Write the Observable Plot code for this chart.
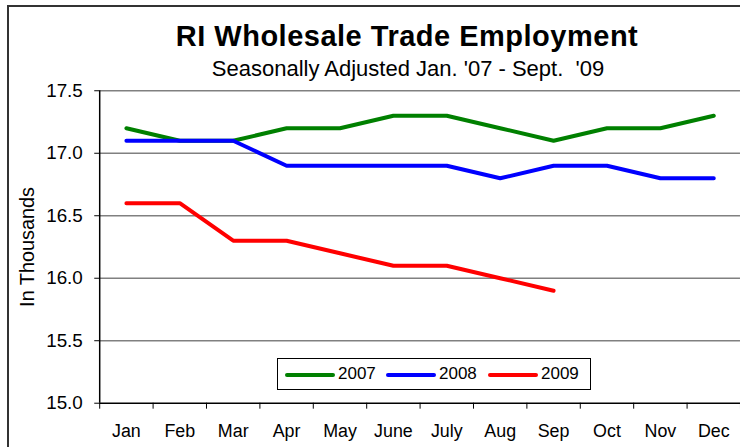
<!DOCTYPE html>
<html><head><meta charset="utf-8">
<script src="https://cdn.jsdelivr.net/npm/d3@7"></script>
<script src="https://cdn.jsdelivr.net/npm/@observablehq/plot@0.6"></script>
<style>
body{margin:0;overflow:hidden;background:#fff;font-family:"Liberation Sans",Arial,sans-serif;}
#wrap{position:relative;width:740px;height:447px;overflow:hidden;background:#fff;}
#frame{position:absolute;left:7px;top:5px;width:800px;height:500px;border:2px solid #333;box-sizing:border-box;}
#title{position:absolute;left:0;top:18px;width:814px;text-align:center;font-weight:bold;font-size:29px;letter-spacing:0.5px;line-height:36px;color:#000;}
#subtitle{position:absolute;left:0;top:57px;width:816px;text-align:center;font-size:22px;line-height:24px;color:#000;}
#chart{position:absolute;left:0;top:0;}
#legend{position:absolute;left:277px;top:358px;width:314px;height:32px;border:1px solid #000;box-sizing:border-box;background:#fff;font-size:17px;}
.sw{position:absolute;top:14px;width:50px;height:4px;border-radius:2px;}
.lt{position:absolute;top:5px;line-height:20px;}
</style></head>
<body>
<div id="wrap">
  <div id="chart"></div>
  <div id="frame"></div>
  <div id="title">RI Wholesale Trade Employment</div>
  <div id="subtitle">Seasonally Adjusted Jan. '07 - Sept.&nbsp; '09</div>
  <div id="legend"></div>
</div>
<script>
const months = ["Jan","Feb","Mar","Apr","May","June","July","Aug","Sep","Oct","Nov","Dec"];
const years = ["2007","2008","2009"];
const colors = ["#008000","#0000ff","#ff0000"];
const v2007 = [17.2,17.1,17.1,17.2,17.2,17.3,17.3,17.2,17.1,17.2,17.2,17.3];
const v2008 = [17.1,17.1,17.1,16.9,16.9,16.9,16.9,16.8,16.9,16.9,16.8,16.8];
const v2009 = [16.6,16.6,16.3,16.3,16.2,16.1,16.1,16.0,15.9];
const yTicks = [15.0,15.5,16.0,16.5,17.0,17.5];

const series = [v2007, v2008, v2009];
const data = [];
series.forEach((vals, s) => vals.forEach((v, i) => data.push({year: years[s], x: i + 0.5, value: v})));
const monthPos = months.map((m, i) => ({m, x: i + 0.5}));
const bounds = d3.range(months.length + 1);

const chart = Plot.plot({
  width: 746,
  height: 447,
  marginLeft: 100,
  marginRight: 0,
  marginTop: 91,
  marginBottom: 41,
  style: {fontFamily: '"Liberation Sans", Arial, sans-serif', fontSize: "19px", color: "#000", background: "transparent"},
  x: {domain: [0, months.length], axis: null},
  y: {domain: [15, 17.5], label: null, axis: null},
  color: {domain: years, range: colors},
  marks: [
    Plot.gridY(yTicks.slice(1), {stroke: "#808080", strokeOpacity: 1, strokeWidth: 1.5}),
    Plot.ruleY([15], {stroke: "#000", strokeWidth: 1.5}),
    Plot.ruleX([0], {stroke: "#000", strokeWidth: 1.5}),
    Plot.axisY(yTicks, {tickSize: 5, tickPadding: 12, tickFormat: d3.format(".1f"), fontSize: 19, letterSpacing: "0.8px", label: null, stroke: "#000"}),
    Plot.text(["In Thousands"], {frameAnchor: "left", textAnchor: "middle", lineAnchor: "middle", rotate: -90, dx: -73, fontSize: 20, letterSpacing: "0.8px", fill: "#000"}),
    Plot.axisX(bounds, {tickSize: 6, tickFormat: () => "", label: null, stroke: "#000"}),
    Plot.text(monthPos, {x: "x", text: "m", frameAnchor: "bottom", lineAnchor: "middle", dy: 28, fontSize: 18, fill: "#000"}),
    Plot.line(data, {x: "x", y: "value", z: "year", stroke: "year", strokeWidth: 4, strokeLinejoin: "miter", strokeLinecap: "round"})
  ]
});
document.getElementById("chart").appendChild(chart);

const legend = document.getElementById("legend");
const lx = [7, 108, 210];
years.forEach((y, i) => {
  const sw = document.createElement("div");
  sw.className = "sw"; sw.style.left = lx[i] + "px"; sw.style.background = colors[i];
  legend.appendChild(sw);
  const t = document.createElement("div");
  t.className = "lt"; t.style.left = (lx[i] + 53) + "px"; t.textContent = y;
  legend.appendChild(t);
});
</script>
</body></html>
